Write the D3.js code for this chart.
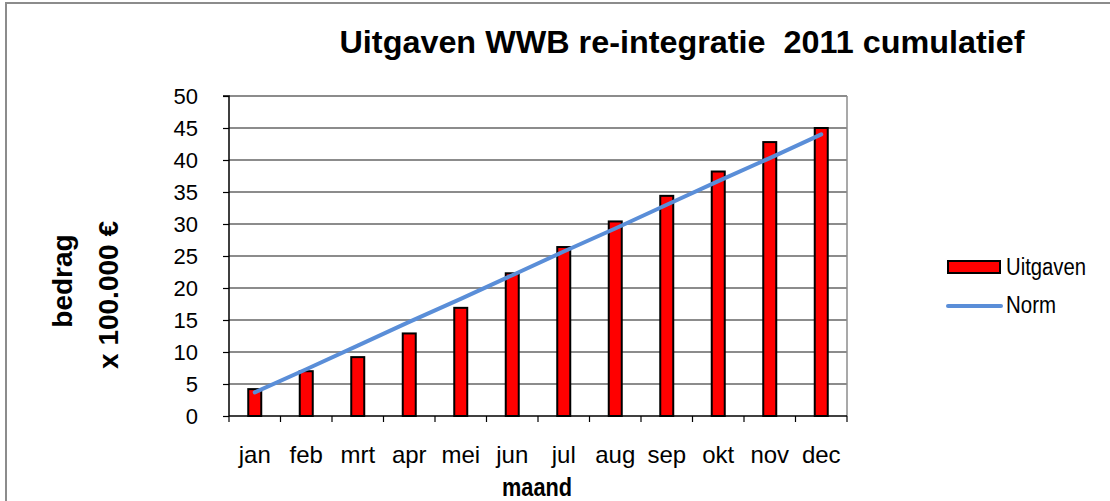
<!DOCTYPE html>
<html>
<head>
<meta charset="utf-8">
<script src="https://cdn.jsdelivr.net/npm/d3@7"></script>
<style>
  html, body { margin: 0; padding: 0; background: #fff; }
  svg { display: block; font-family: "Liberation Sans", Arial, sans-serif; }
  text { white-space: pre; }
</style>
</head>
<body>
<svg id="chart" width="1110" height="501"></svg>
<script>
// Monthly cumulative spending (x 100.000 €) and the linear budget norm
const months = ["jan", "feb", "mrt", "apr", "mei", "jun", "jul", "aug", "sep", "okt", "nov", "dec"];
const uitgaven = [4.2, 7.0, 9.2, 12.9, 16.9, 22.3, 26.4, 30.4, 34.4, 38.2, 42.8, 45.0];
const norm = [3.7, 7.3, 11.0, 14.7, 18.3, 22.0, 25.7, 29.3, 33.0, 36.7, 40.3, 44.0];
const yTicks = [0, 5, 10, 15, 20, 25, 30, 35, 40, 45, 50];

const svg = d3.select("#chart");
const W = 1110, H = 501;
const plot = { left: 229, right: 847, top: 96, bottom: 416 };

// Outer chart frame
svg.append("rect")
  .attr("x", 6).attr("y", 3)
  .attr("width", W + 20).attr("height", H + 20)
  .attr("fill", "#fff").attr("stroke", "#8c8c8c").attr("stroke-width", 2);

const x = d3.scaleBand().domain(months).range([plot.left, plot.right]).paddingInner(0).paddingOuter(0);
const y = d3.scaleLinear().domain([0, 50]).range([plot.bottom, plot.top]);

// Horizontal gridlines
svg.append("g")
  .selectAll("line")
  .data(yTicks.filter(d => d > 0))
  .join("line")
  .attr("x1", plot.left).attr("x2", plot.right)
  .attr("y1", d => y(d)).attr("y2", d => y(d))
  .attr("stroke", "#1a1a1a").attr("stroke-width", 1.2);

// Right border of the plot area
svg.append("line")
  .attr("x1", plot.right).attr("x2", plot.right)
  .attr("y1", plot.top).attr("y2", plot.bottom)
  .attr("stroke", "#8c8c8c").attr("stroke-width", 1.5);

// Y axis
const yAxis = d3.axisLeft(y).tickValues(yTicks).tickSize(6).tickPadding(25).tickFormat(d3.format("d"));
const gy = svg.append("g").attr("transform", `translate(${plot.left},0)`).call(yAxis);
gy.select(".domain").attr("stroke", "#000").attr("stroke-width", 1.5).attr("d", `M-6,${plot.top}H0V${plot.bottom}`);
gy.selectAll(".tick line").attr("stroke", "#000").attr("stroke-width", 1.2);
gy.selectAll(".tick text").attr("font-size", 22).attr("fill", "#000")
  .attr("font-family", "Liberation Sans, Arial, sans-serif");

// Bars
const barW = 13;
svg.append("g")
  .selectAll("rect")
  .data(uitgaven)
  .join("rect")
  .attr("x", (d, i) => x(months[i]) + x.bandwidth() / 2 - barW / 2)
  .attr("y", d => y(d))
  .attr("width", barW)
  .attr("height", d => y(0) - y(d))
  .attr("fill", "#ff0000")
  .attr("stroke", "#000")
  .attr("stroke-width", 2);

// X axis with ticks on the category boundaries
const gx = svg.append("g").attr("transform", `translate(0,${plot.bottom})`);
gx.append("line").attr("x1", plot.left).attr("x2", plot.right).attr("y1", 0).attr("y2", 0)
  .attr("stroke", "#000").attr("stroke-width", 1.5);
const boundaries = months.map(m => x(m)).concat([plot.right]);
gx.selectAll("line.tk").data(boundaries).join("line").attr("class", "tk")
  .attr("x1", d => d).attr("x2", d => d).attr("y1", 0).attr("y2", 6)
  .attr("stroke", "#000").attr("stroke-width", 1.2);
gx.selectAll("text").data(months).join("text")
  .attr("x", d => x(d) + x.bandwidth() / 2)
  .attr("y", 47)
  .attr("text-anchor", "middle")
  .attr("font-size", 24)
  .text(d => d);

// Norm line
const line = d3.line().x((d, i) => x(months[i]) + x.bandwidth() / 2).y(d => y(d));
svg.append("path")
  .datum(norm)
  .attr("d", line)
  .attr("fill", "none")
  .attr("stroke", "#5a8ed8")
  .attr("stroke-width", 4)
  .attr("stroke-linecap", "round");

// Title
svg.append("text")
  .attr("x", 682).attr("y", 53)
  .attr("text-anchor", "middle")
  .attr("font-size", 32).attr("font-weight", "bold")
  .attr("textLength", 685).attr("lengthAdjust", "spacingAndGlyphs")
  .text("Uitgaven WWB re-integratie  2011 cumulatief");

// Axis titles
svg.append("text")
  .attr("x", 537).attr("y", 496)
  .attr("text-anchor", "middle")
  .attr("font-size", 25).attr("font-weight", "bold")
  .attr("textLength", 70).attr("lengthAdjust", "spacingAndGlyphs")
  .text("maand");

const yTitle = svg.append("g").attr("font-size", 28).attr("font-weight", "bold");
yTitle.append("text")
  .attr("transform", "translate(72,281) rotate(-90)")
  .attr("text-anchor", "middle")
  .text("bedrag");
yTitle.append("text")
  .attr("transform", "translate(118,295) rotate(-90)")
  .attr("text-anchor", "middle")
  .text("x 100.000 €");

// Legend
const lg = svg.append("g");
lg.append("rect").attr("x", 948).attr("y", 261).attr("width", 52).attr("height", 12)
  .attr("fill", "#ff0000").attr("stroke", "#000").attr("stroke-width", 2);
lg.append("text").attr("x", 1006).attr("y", 275).attr("font-size", 23)
  .attr("textLength", 80).attr("lengthAdjust", "spacingAndGlyphs").text("Uitgaven");
lg.append("line").attr("x1", 948).attr("x2", 1001).attr("y1", 306).attr("y2", 306)
  .attr("stroke", "#5a8ed8").attr("stroke-width", 4).attr("stroke-linecap", "round");
lg.append("text").attr("x", 1006).attr("y", 313).attr("font-size", 23)
  .attr("textLength", 50).attr("lengthAdjust", "spacingAndGlyphs").text("Norm");
</script>
</body>
</html>
